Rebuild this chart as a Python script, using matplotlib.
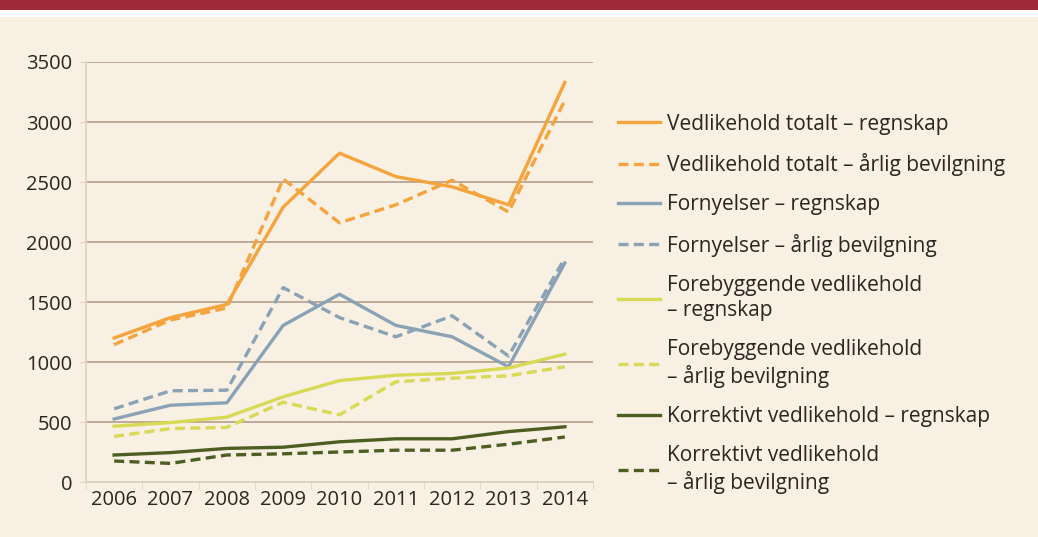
import matplotlib

matplotlib.use("Agg")
import matplotlib.pyplot as plt
from matplotlib.patches import Rectangle

plt.rcParams["font.family"] = ["Open Sans", "DejaVu Sans"]

YEARS = ["2006", "2007", "2008", "2009", "2010", "2011", "2012", "2013", "2014"]

totalt_regnskap = [1200, 1370, 1480, 2290, 2740, 2545, 2460, 2310, 3330]
totalt_bevilgning = [1145, 1350, 1450, 2525, 2160, 2310, 2515, 2250, 3180]
fornyelser_regnskap = [525, 640, 660, 1305, 1565, 1305, 1210, 960, 1825]
fornyelser_bevilgning = [610, 760, 765, 1620, 1370, 1210, 1385, 1050, 1865]
forebyggende_regnskap = [465, 495, 540, 710, 845, 890, 905, 950, 1065]
forebyggende_bevilgning = [380, 445, 455, 665, 560, 835, 865, 885, 960]
korrektivt_regnskap = [225, 245, 280, 290, 335, 360, 360, 420, 460]
korrektivt_bevilgning = [175, 155, 225, 235, 250, 265, 265, 315, 375]

LABELS = [
    "Vedlikehold totalt – regnskap",
    "Vedlikehold totalt – årlig bevilgning",
    "Fornyelser – regnskap",
    "Fornyelser – årlig bevilgning",
    "Forebyggende vedlikehold\n– regnskap",
    "Forebyggende vedlikehold\n– årlig bevilgning",
    "Korrektivt vedlikehold – regnskap",
    "Korrektivt vedlikehold\n– årlig bevilgning",
]

BG = "#f8f0e2"
ORANGE = "#f5a33c"
BLUE = "#8aa2b6"
YELLOW = "#d8d955"
GREEN = "#4d5e23"
TEXT = "#2b2420"


def main():
    fig = plt.figure(figsize=(10.38, 5.37), dpi=100, facecolor=BG)
    # top band: dark red stripe + white gap
    fig.patches.append(Rectangle((0, 1 - 17 / 537), 1, 17 / 537, transform=fig.transFigure,
                                 facecolor="white", edgecolor="none", zorder=0))
    fig.patches.append(Rectangle((0, 1 - 10 / 537), 1, 10 / 537, transform=fig.transFigure,
                                 facecolor="#9e2835", edgecolor="none", zorder=1))

    ax = fig.add_axes([86 / 1038, (537 - 482) / 537, (593 - 86) / 1038, 420 / 537])
    ax.set_facecolor(BG)
    x = range(len(YEARS))

    series = [
        (totalt_regnskap, ORANGE, "-"),
        (totalt_bevilgning, ORANGE, "--"),
        (fornyelser_regnskap, BLUE, "-"),
        (fornyelser_bevilgning, BLUE, "--"),
        (forebyggende_regnskap, YELLOW, "-"),
        (forebyggende_bevilgning, YELLOW, "--"),
        (korrektivt_regnskap, GREEN, "-"),
        (korrektivt_bevilgning, GREEN, "--"),
    ]
    for (vals, c, ls), lab in zip(series, LABELS):
        ax.plot(x, vals, color=c, ls=ls, lw=2.4, label=lab,
                dashes=(3, 1.6) if ls == "--" else (None, None), zorder=3)

    ax.set_xlim(-0.5, 8.5)
    ax.set_ylim(0, 3500)
    ax.set_yticks(range(0, 3501, 500))
    ax.set_xticks(list(x))
    ax.set_xticklabels(YEARS)
    ax.set_xticks([i - 0.5 for i in range(10)], minor=True)
    ax.tick_params(axis="x", which="major", length=0, labelsize=14.5, colors=TEXT, pad=6)
    ax.tick_params(axis="x", which="minor", length=5, color="#ddd3bf")
    ax.tick_params(axis="y", length=4, color="#ddd3bf", labelsize=14.5, labelcolor=TEXT, pad=6)
    ax.grid(axis="y", color="#b9a48f", lw=1.3, zorder=1)
    for s in ["top", "right"]:
        ax.spines[s].set_visible(False)
    for s in ["left", "bottom"]:
        ax.spines[s].set_color("#ddd3bf")
        ax.spines[s].set_linewidth(1.3)

    leg = ax.legend(loc="upper left", bbox_to_anchor=(1.049, 0.877), frameon=False,
                    borderpad=0, borderaxespad=0,
                    fontsize=15, handlelength=2.0, handletextpad=0.35, labelspacing=0.88,
                    labelcolor=TEXT)
    for t in leg.get_texts():
        t.set_linespacing(1.25)
    for line in leg.get_lines():
        line.set_linewidth(2.4)

    fig.savefig("out.png", dpi=100, facecolor=BG)


if __name__ == "__main__":
    main()
